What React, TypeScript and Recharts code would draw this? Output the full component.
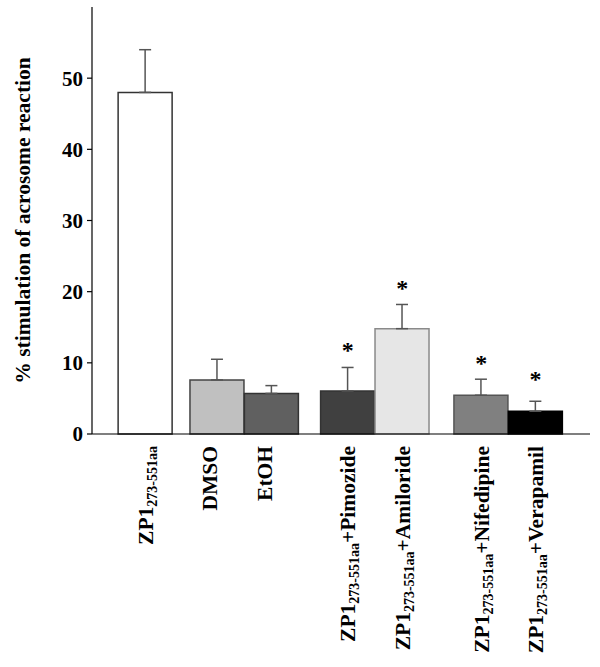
import { ComposedChart, Bar, Cell, ErrorBar, Scatter, XAxis, YAxis } from 'recharts';

const FONT = '"Liberation Serif", "Times New Roman", serif';
const ZP_SUB = '273-551aa';

const categories = [
  'ZP1',
  'DMSO',
  'EtOH',
  'ZP1+Pimozide',
  'ZP1+Amiloride',
  'ZP1+Nifedipine',
  'ZP1+Verapamil',
];
// bar centres along the x axis (groups are spaced apart)
const positions = [0.98, 2.3, 3.3, 4.7, 5.7, 7.15, 8.15];
const means = [48, 7.6, 5.7, 6.05, 14.8, 5.45, 3.2];
const sem = [6, 2.9, 1.1, 3.3, 3.4, 2.25, 1.4];
const starAt = [null, null, null, 12.2, 21, 10.4, 8.2];
const fills = ['#ffffff', '#c0c0c0', '#606060', '#404040', '#e6e6e6', '#808080', '#000000'];
const strokes = ['#333333', '#444444', '#333333', '#333333', '#8a8a8a', '#555555', '#000000'];
const yTicks = [0, 10, 20, 30, 40, 50];

const data = categories.map((name, i) => ({
  name,
  pos: positions[i],
  mean: means[i],
  err: [0, sem[i]],
  star: starAt[i],
}));
const starData = data.filter((d) => d.star != null);

function CategoryTick({ x, y, payload }: any) {
  const i = positions.indexOf(payload.value);
  const name = categories[i] ?? '';
  const hasZp = name.startsWith('ZP1');
  const rest = hasZp ? name.slice(3) : name;
  return (
    <g transform={`translate(${x},${y}) rotate(-90)`}>
      <text
        textAnchor="end"
        dy="0.35em"
        fontFamily={FONT}
        fontWeight="bold"
        fontSize={21.5}
        fill="#000"
      >
        {hasZp && <tspan>ZP1</tspan>}
        {hasZp && (
          <tspan fontSize={14} dy={4}>
            {ZP_SUB}
          </tspan>
        )}
        {rest && <tspan dy={hasZp ? -4 : 0}>{rest}</tspan>}
      </text>
    </g>
  );
}

function YLabel({ viewBox }: any) {
  const cy = viewBox.y + viewBox.height / 2;
  return (
    <text
      transform={`translate(22,${cy}) rotate(-90)`}
      textAnchor="middle"
      dy="0.35em"
      fontFamily={FONT}
      fontWeight="bold"
      fontSize={21.5}
      fill="#000"
    >
      % stimulation of acrosome reaction
    </text>
  );
}

function Star({ cx, cy }: any) {
  return (
    <text
      x={cx}
      y={cy}
      dy={11}
      textAnchor="middle"
      fontFamily={FONT}
      fontWeight="bold"
      fontSize={24}
      fill="#000"
    >
      *
    </text>
  );
}

export default function App() {
  return (
    <div style={{ position: 'absolute', left: 0, top: 0, background: '#fff' }}>
      <ComposedChart
        width={600}
        height={667}
        data={data}
        margin={{ top: 7, right: 10, left: 0, bottom: 0 }}
      >
        <XAxis
          dataKey="pos"
          type="number"
          domain={[0, 9.15]}
          ticks={positions}
          interval={0}
          height={233}
          tickLine={false}
          tickSize={0}
          tickMargin={12}
          axisLine={{ stroke: '#000', strokeWidth: 1.2 }}
          tick={<CategoryTick />}
        />
        <YAxis
          type="number"
          domain={[0, 60]}
          ticks={yTicks}
          interval={0}
          width={92}
          tickSize={5}
          tickMargin={4}
          axisLine={{ stroke: '#000', strokeWidth: 1.2 }}
          tickLine={{ stroke: '#000', strokeWidth: 1.2 }}
          tick={{ fill: '#000', fontSize: 21, fontWeight: 'bold', fontFamily: FONT }}
          label={{ content: YLabel }}
        />
        <Bar dataKey="mean" barSize={54} strokeWidth={1.5} isAnimationActive={false}>
          {data.map((d, i) => (
            <Cell key={d.name} fill={fills[i]} stroke={strokes[i]} />
          ))}
          <ErrorBar dataKey="err" direction="y" width={6} stroke="#555" strokeWidth={1.5} />
        </Bar>
        <Scatter data={starData} dataKey="star" shape={Star} isAnimationActive={false} />
      </ComposedChart>
    </div>
  );
}
